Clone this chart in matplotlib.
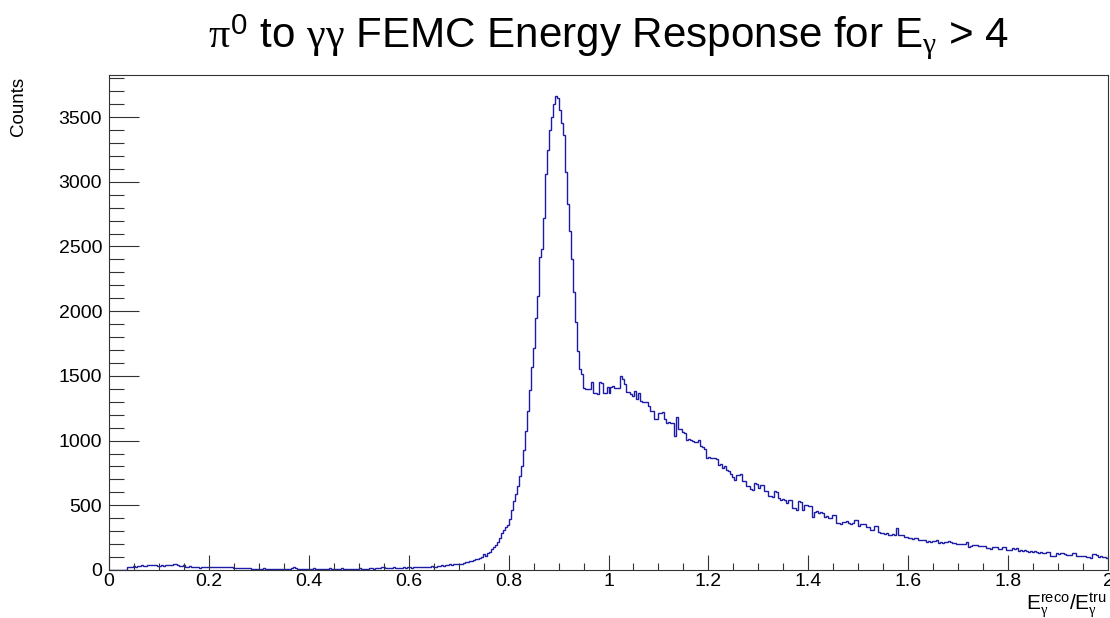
import matplotlib
matplotlib.use("Agg")
import matplotlib.pyplot as plt
from matplotlib.ticker import MultipleLocator, FuncFormatter
import numpy as np

plt.rcParams['font.family'] = 'Liberation Sans'
plt.rcParams['mathtext.fontset'] = 'custom'
plt.rcParams['mathtext.rm'] = 'Liberation Sans'
plt.rcParams['mathtext.it'] = 'Liberation Serif'
plt.rcParams['mathtext.bf'] = 'Liberation Sans:bold'

# histogram: 500 bins from 0 to 2 (bin width 0.004), counts
counts_low = [  # 0.000 - 0.600
    0, 0, 0, 0, 0, 0, 0, 0, 0,
    22, 26, 25, 28, 26, 32, 30, 35, 33, 31,
    38, 36, 40, 37, 39, 34, 33, 36, 31, 35,
    38, 41, 39, 45, 43, 40, 34, 31, 35, 27,
    25, 28, 24, 22, 21, 23, 19, 22, 20, 21, 24,
    22, 25, 21, 24, 22, 26, 20, 23, 25, 21, 22, 24,
    17, 14, 18, 15, 13, 16, 12, 15, 14, 11,
    10, 9, 11, 8, 10, 12, 9, 8, 10, 11, 9, 7, 10, 8, 9, 11, 8, 10, 9, 12,
    20, 14,
    8, 7, 9, 6, 8, 10, 7, 8, 13, 7, 9, 6, 8, 7, 10, 8, 12, 9, 7, 8,
    6, 9, 13, 8, 7, 10, 9, 8, 11, 7, 9, 12, 8, 10, 9, 11,
    12, 14, 11, 16, 13, 15, 26, 22, 17, 19, 18, 16, 20, 17, 15, 19, 18, 21, 17, 20,
]
counts_rise = [  # 0.600 - 0.840
    21, 19, 23, 20, 22, 24, 21, 23, 25,
    26, 24, 28, 25, 27,
    33, 31, 35, 34, 36,
    42, 45, 40, 46, 44,
    48, 46, 50,
    56, 60, 62,
    68, 71, 74, 82, 85, 95, 100, 124, 109, 130,
    142, 160, 181, 194, 215, 245, 284, 310, 330, 349,
    393, 465, 530, 590, 646, 723, 800, 930, 1075, 1230,
]
counts_peak = [  # 0.840 - 0.952
    1390, 1568, 1718, 1950, 2118, 2416, 2480, 2718, 3061, 3242,
    3397, 3500, 3604, 3661, 3650, 3557, 3454, 3358, 3079, 2829,
    2622, 2403, 2152, 1920, 1692, 1550, 1517, 1403,
]
counts_shoulder = [  # 0.952 - 1.260
    1400, 1396, 1402, 1452, 1364, 1370, 1360, 1454, 1448, 1369,
    1365, 1413, 1364, 1415, 1418, 1408, 1405, 1410, 1498, 1473,
    1434, 1374, 1378, 1361, 1343, 1382, 1318, 1364, 1305, 1302,
    1297, 1295, 1266, 1227, 1230, 1163, 1168, 1214, 1210, 1220,
    1163, 1137, 1140, 1135, 1138, 1039, 1183, 1090, 1088, 1065,
    1062, 1008, 1010, 1003, 1000, 987, 990, 1003, 956, 952,
    935, 866, 870, 862, 868, 864, 860, 814, 818, 788,
    801, 770, 762, 742, 722, 698, 736,
]
counts_tail = [  # 1.260 - 2.000
    736, 738, 685, 688, 646, 648, 625, 622, 672, 668,
    633, 659, 655, 607, 610, 568, 572, 565, 607, 604,
    555, 542, 545, 540, 517, 542, 538, 478, 482, 465,
    530, 527, 465, 504, 500, 491, 494, 408, 452, 455,
    444, 446, 442, 413, 415, 400, 402, 426, 423, 361,
    364, 358, 374, 371, 376, 361, 358, 363, 387, 384,
    341, 356, 353, 358, 330, 333, 310, 312, 341, 338,
    297, 284, 286, 281, 285, 271, 273, 276, 274, 328,
    271, 268, 270, 253, 255, 245, 248, 243, 246, 244,
    232, 235, 230, 233, 219, 222, 218, 227, 224, 229,
    212, 214, 210, 213, 219, 221, 217, 206, 208, 204,
    201, 199, 203, 200, 219, 180, 183, 193, 190, 195,
    186, 188, 184, 187, 168, 171, 166, 176, 174, 178,
    160, 162, 180, 178, 155, 157, 153, 168, 166, 170,
    150, 152, 148, 151, 149, 142, 144, 140, 143, 141,
    134, 136, 132, 135, 142, 140, 108, 112, 110, 129,
    127, 131, 128, 126, 116, 118, 114, 134, 131, 108,
    110, 106, 109, 107, 98, 100, 96, 124, 121, 119,
    103, 105, 101, 104, 90,
]
x_min, x_max = 0.0, 2.0

counts = np.array(counts_low + counts_rise + counts_peak + counts_shoulder + counts_tail)
edges = np.linspace(x_min, x_max, len(counts) + 1)

fig = plt.figure(figsize=(11.1, 6.18), dpi=100)
ax = fig.add_axes([109 / 1110, 1 - 570 / 618, (1108 - 109) / 1110, (570 - 75) / 618])

ax.stairs(counts, edges, baseline=None, color='#1c1ca6', linewidth=1.0)

ax.set_xlim(x_min, x_max)
ax.set_ylim(0, 3825)

ax.xaxis.set_major_locator(MultipleLocator(0.2))
ax.xaxis.set_minor_locator(MultipleLocator(0.05))
ax.yaxis.set_major_locator(MultipleLocator(500))
ax.yaxis.set_minor_locator(MultipleLocator(100))
ax.xaxis.set_major_formatter(FuncFormatter(lambda v, p: f'{v:g}'))

ax.tick_params(axis='both', which='both', direction='in', colors='#333333',
               labelcolor='black', labelsize=14, width=0.8)
ax.tick_params(axis='y', which='major', length=21.6, pad=5)
ax.tick_params(axis='y', which='minor', length=10.8)
ax.tick_params(axis='x', which='major', length=10.8, pad=2.5)
ax.tick_params(axis='x', which='minor', length=5.4)
for s in ax.spines.values():
    s.set_color('#333333')
    s.set_linewidth(0.8)

fig.text(608 / 1110, 1 - 47 / 618,
         r'$\pi^{\mathrm{0}}$ to $\gamma\gamma$ FEMC Energy Response for $\mathrm{E}_{\gamma}$ > 4',
         ha='center', va='baseline', fontsize=30.3)
fig.text(18.5 / 1110, 1 - 77 / 618, 'Counts', rotation=90, ha='center', va='top', fontsize=13.5)
fig.text(1107 / 1110, 1 - 610 / 618,
         r'$\mathrm{E}_{\gamma}^{\mathrm{reco}}/\mathrm{E}_{\gamma}^{\mathrm{tru}}$',
         ha='right', va='baseline', fontsize=15)

fig.savefig('out.png', dpi=100, facecolor='white')
